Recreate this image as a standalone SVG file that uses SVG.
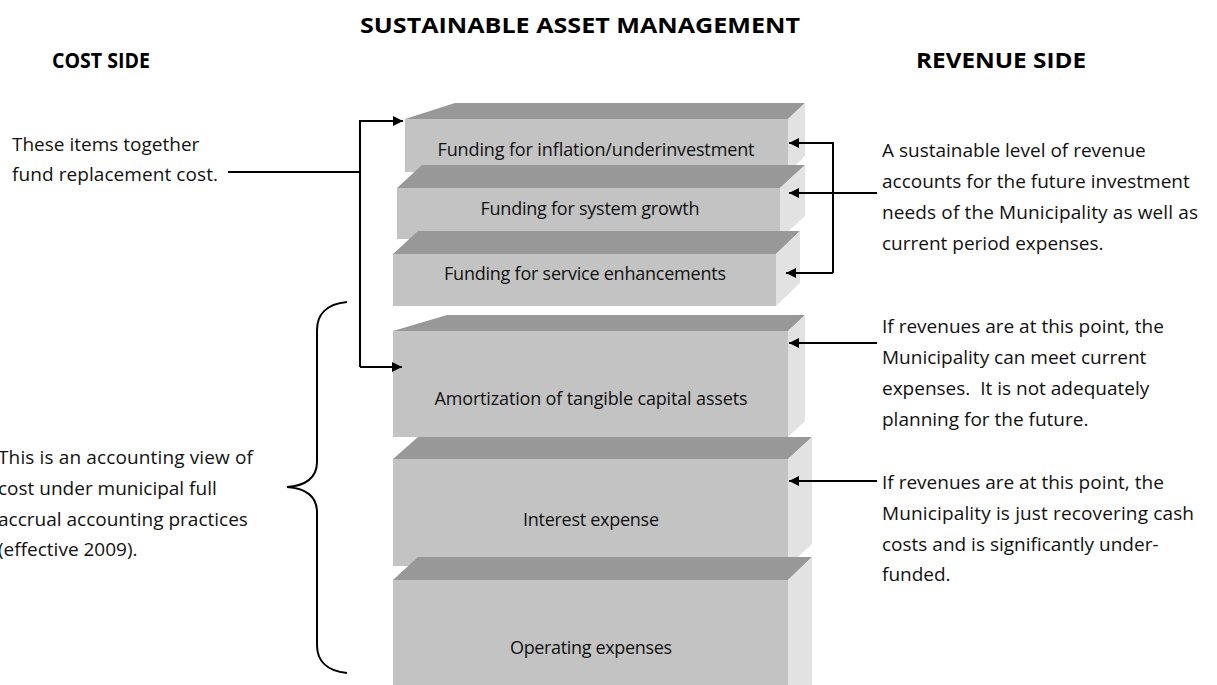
<svg xmlns="http://www.w3.org/2000/svg" width="1217" height="685" viewBox="0 0 1217 685">
<style>
.front{fill:#c3c3c3}
.top{fill:#989898}
.side{fill:#e2e2e2}
.lbl{font-family:"Open Sans","Liberation Sans",sans-serif;font-size:18px;fill:#111;text-anchor:middle}
.note{font-family:"Open Sans","Liberation Sans",sans-serif;font-size:19px;fill:#111}
.head{font-family:"Open Sans","Liberation Sans",sans-serif;font-size:21px;font-weight:bold;fill:#000}
.ln{fill:none;stroke:#000;stroke-width:2}
</style>
<defs>
<marker id="ah" viewBox="0 0 10 10" refX="10" refY="5" markerWidth="5" markerHeight="5" orient="auto" markerUnits="strokeWidth">
<path d="M0,0 L10,5 L0,10 z" fill="#000"/>
</marker>
</defs>
<rect width="1217" height="685" fill="#fff"/>
<g id="titles">
<text class="head" x="580" y="33" text-anchor="middle" textLength="440" lengthAdjust="spacingAndGlyphs">SUSTAINABLE ASSET MANAGEMENT</text>
<text class="head" x="52" y="68" textLength="98" lengthAdjust="spacingAndGlyphs">COST SIDE</text>
<text class="head" x="1001" y="68" text-anchor="middle" textLength="170" lengthAdjust="spacingAndGlyphs">REVENUE SIDE</text>
</g>
<g id="box-inflation">
<polygon class="top" points="405,119 455,103 805,103 788,119"/>
<polygon class="side" points="788,119 805,103 805,156 788,172"/>
<rect class="front" x="405" y="119" width="383" height="53"/>
<text class="lbl" x="596" y="156" textLength="317">Funding for inflation/underinvestment</text>
</g>
<g id="box-growth">
<polygon class="top" points="397,188 422,165 805,165 780,188"/>
<polygon class="side" points="780,188 805,165 805,216 780,239"/>
<rect class="front" x="397" y="188" width="383" height="51"/>
<text class="lbl" x="590" y="215" textLength="219">Funding for system growth</text>
</g>
<g id="box-service">
<polygon class="top" points="393,254 418,231 800,231 776,254"/>
<polygon class="side" points="776,254 800,231 800,283 776,306"/>
<rect class="front" x="393" y="254" width="383" height="52"/>
<text class="lbl" x="585" y="280" textLength="282">Funding for service enhancements</text>
</g>
<g id="box-amortization">
<polygon class="top" points="393,331 447,315 805,315 788,331"/>
<polygon class="side" points="788,331 805,315 805,421 788,437"/>
<rect class="front" x="393" y="331" width="395" height="106"/>
<text class="lbl" x="591" y="405" textLength="313">Amortization of tangible capital assets</text>
</g>
<g id="box-interest">
<polygon class="top" points="393,459 418,437 812,437 788,459"/>
<polygon class="side" points="788,459 812,437 812,544 788,566"/>
<rect class="front" x="393" y="459" width="395" height="107"/>
<text class="lbl" x="591" y="526" textLength="136">Interest expense</text>
</g>
<g id="box-operating">
<polygon class="top" points="393,580 418,557 812,557 788,580"/>
<polygon class="side" points="788,580 812,557 812,685 788,685"/>
<rect class="front" x="393" y="580" width="395" height="105"/>
<text class="lbl" x="591" y="654" textLength="162">Operating expenses</text>
</g>
<g id="note-replacement">
<text class="note" x="12" y="151">These items together</text>
<text class="note" x="12" y="181" textLength="206">fund replacement cost.</text>
</g>
<g id="note-accounting">
<text class="note" x="-2" y="464" textLength="255">This is an accounting view of</text>
<text class="note" x="-2" y="495">cost under municipal full</text>
<text class="note" x="-2" y="526">accrual accounting practices</text>
<text class="note" x="-2" y="556">(effective 2009).</text>
</g>
<g id="note-sustainable">
<text class="note" x="882" y="157">A sustainable level of revenue</text>
<text class="note" x="882" y="188">accounts for the future investment</text>
<text class="note" x="882" y="219" textLength="316">needs of the Municipality as well as</text>
<text class="note" x="882" y="250">current period expenses.</text>
</g>
<g id="note-current">
<text class="note" x="882" y="333">If revenues are at this point, the</text>
<text class="note" x="882" y="364">Municipality can meet current</text>
<text class="note" x="882" y="395" xml:space="preserve">expenses.  It is not adequately</text>
<text class="note" x="882" y="426">planning for the future.</text>
</g>
<g id="note-cash">
<text class="note" x="882" y="489">If revenues are at this point, the</text>
<text class="note" x="882" y="520" textLength="312">Municipality is just recovering cash</text>
<text class="note" x="882" y="551">costs and is significantly under-</text>
<text class="note" x="882" y="581">funded.</text>
</g>
<g id="brace">
<path class="ln" d="M347,302 C326,304 317,315 317,330 L317,462 C317,478 305,486 287,487 C305,488 317,496 317,512 L317,645 C317,660 326,671 347,673"/>
</g>
<g id="connectors">
<path class="ln" d="M228,172 L360,172"/>
<path class="ln" d="M360,367 L360,121 L403,121" marker-end="url(#ah)"/>
<path class="ln" d="M360,367 L402,367" marker-end="url(#ah)"/>
<path class="ln" d="M833,273 L833,143 L789,143" marker-end="url(#ah)"/>
<path class="ln" d="M833,273 L786,273" marker-end="url(#ah)"/>
<path class="ln" d="M877,193 L789,193" marker-end="url(#ah)"/>
<path class="ln" d="M877,343 L789,343" marker-end="url(#ah)"/>
<path class="ln" d="M877,481 L789,481" marker-end="url(#ah)"/>
</g>
</svg>
